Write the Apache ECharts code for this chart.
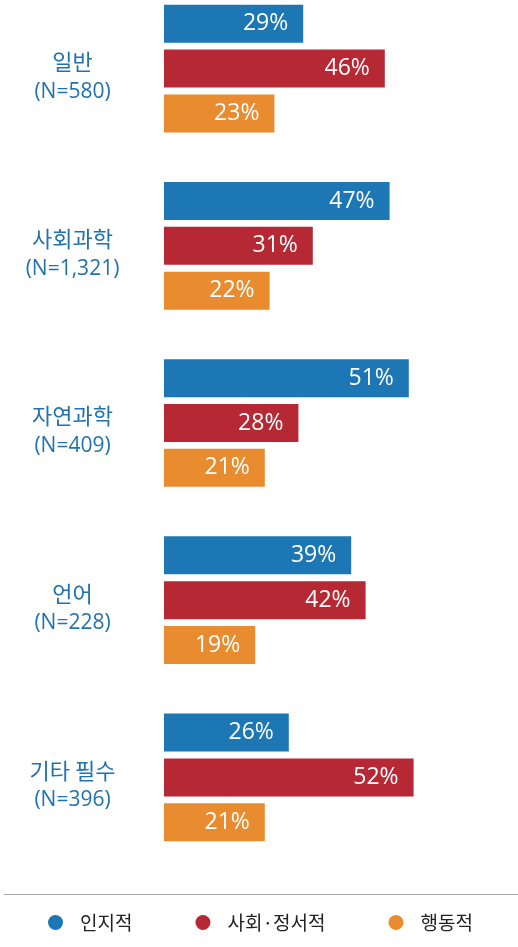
<!DOCTYPE html>
<html>
<head>
<meta charset="utf-8">
<script src="https://cdn.jsdelivr.net/npm/echarts@6/dist/echarts.min.js"></script>
<style>
  html, body { margin: 0; padding: 0; background: #ffffff; }
  #chart { width: 518px; height: 947px; }
</style>
</head>
<body>
<div id="chart"></div>
<script>
// ---- data ----
const categories = ['일반', '사회과학', '자연과학', '언어', '기타 필수'];
const sampleSizes = ['580', '1,321', '409', '228', '396'];
const seriesNames = ['인지적', '사회·정서적', '행동적'];
const cognitive = [29, 47, 51, 39, 26];
const socialEmotional = [46, 31, 28, 42, 52];
const behavioral = [23, 22, 21, 19, 21];

const colors = ['#1c77b4', '#b52834', '#e98b2f'];
const seriesData = [cognitive, socialEmotional, behavioral];

const chart = echarts.init(document.getElementById('chart'), null, { renderer: 'canvas' });

const series = seriesNames.map((name, i) => ({
  name: name,
  type: 'bar',
  data: seriesData[i],
  barWidth: 38,
  barGap: '18%',
  itemStyle: { color: colors[i] },
  label: {
    show: true,
    position: 'insideRight',
    distance: 15,
    formatter: p => p.value + '%',
    color: '#ffffff',
    fontFamily: "'Open Sans', sans-serif",
    fontSize: 23
  }
}));

chart.setOption({
  animation: false,
  backgroundColor: '#ffffff',
  grid: { left: 164, width: 288, top: -20, height: 886, outerBoundsMode: 'none', containLabel: false },
  xAxis: { type: 'value', min: 0, max: 60, show: false },
  yAxis: {
    type: 'category',
    inverse: true,
    data: categories,
    axisLine: { show: false },
    axisTick: { show: false },
    splitLine: { show: false },
    axisLabel: {
      margin: 91.5,
      align: 'center',
      color: '#2272ae',
      padding: [16, 0, 0, 0],
      formatter: (v, idx) => '{k|' + v + '}\n{n|(N=' + sampleSizes[idx] + ')}',
      rich: {
        k: { fontSize: 22, lineHeight: 30, color: '#2272ae', fontFamily: "'Noto Sans CJK KR', sans-serif", align: 'center' },
        n: { fontSize: 21, lineHeight: 30, color: '#2272ae', fontFamily: "'Open Sans', sans-serif", align: 'center' }
      }
    }
  },
  legend: {
    data: seriesNames,
    left: 48,
    top: 913,
    padding: 0,
    icon: 'circle',
    itemWidth: 15,
    itemHeight: 15,
    itemGap: 63,
    textStyle: {
      color: '#222222',
      fontSize: 19,
      fontFamily: "'Noto Sans CJK KR', sans-serif",
      padding: [0, 0, 0, 12]
    }
  },
  graphic: [{
    type: 'line',
    shape: { x1: 4, y1: 894.5, x2: 518, y2: 894.5 },
    style: { stroke: '#a6a6a6', lineWidth: 1 },
    silent: true
  }],
  series: series
});
</script>
</body>
</html>
